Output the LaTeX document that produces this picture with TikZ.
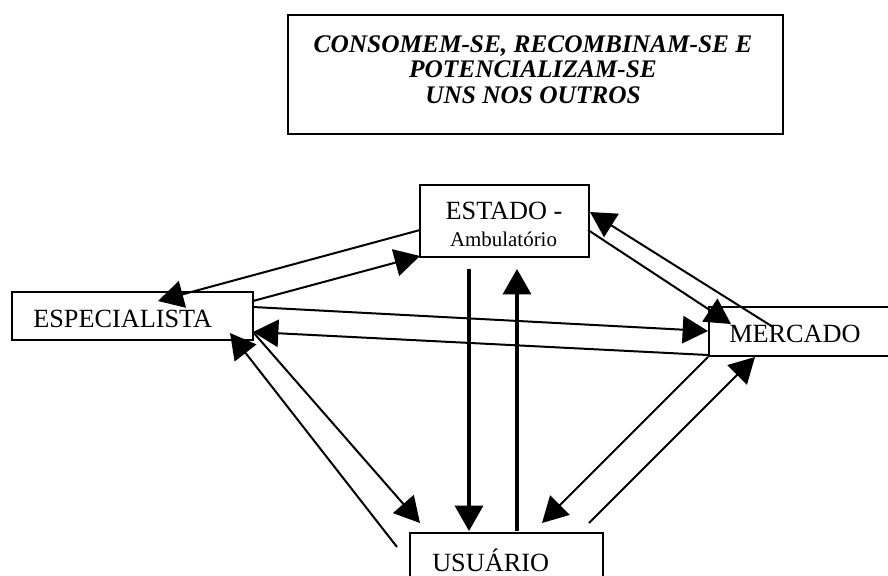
\documentclass[tikz,border=0pt]{standalone}
\usepackage{fontspec}
\setmainfont{Liberation Serif}
\usetikzlibrary{arrows.meta}
\begin{document}
\begin{tikzpicture}[x=0.75pt,y=-0.75pt,
  box/.style={draw,line width=1.6pt,inner sep=0pt,anchor=north west},
  lbl/.style={inner sep=0pt,anchor=base west,font=\fontsize{19.7}{22}\selectfont},
  ttl/.style={inner sep=0pt,anchor=base,font=\fontsize{19}{22.5}\selectfont\bfseries\itshape},
  arr/.style={line width=1.5pt,-{Triangle[length=19pt,width=20.5pt]}},
  varr/.style={line width=2.4pt,-{Triangle[length=19pt,width=21pt]}}]
\useasboundingbox (0,0) rectangle (888,575);
\clip (0,0) rectangle (888,575);
% title
\node[box,minimum width=371.25pt,minimum height=89.25pt] (title) at (287,14) {};
\node[ttl] (t1) at (533,52) {CONSOMEM-SE, RECOMBINAM-SE E};
\node[ttl] (t2) at (533,77.5) {POTENCIALIZAM-SE};
\node[ttl] (t3) at (533,103) {UNS NOS OUTROS};
% boxes
\node[box,minimum width=126.75pt,minimum height=54pt] (estado) at (419,184) {};
\node[inner sep=0pt,anchor=base,font=\fontsize{19.7}{22}\selectfont] (estadotxt) at (504,219) {ESTADO -};
\node[inner sep=0pt,anchor=base,font=\fontsize{15.7}{18}\selectfont] (ambtxt) at (503.5,246) {Ambulatório};
\node[box,minimum width=180.75pt,minimum height=36pt] (esp) at (11,291) {};
\node[lbl] (esptxt) at (33,327) {ESPECIALISTA};
\node[box,minimum width=150pt,minimum height=36.75pt] (merc) at (708,306) {};
\node[lbl] (merctxt) at (729,342) {MERCADO};
\node[box,minimum width=144.75pt,minimum height=60pt] (usu) at (409,532) {};
\node[lbl] (usutxt) at (432,571) {USUÁRIO};
% connector ends
\coordinate (a1s) at (420,230); \coordinate (a1e) at (158,301);
\coordinate (a2s) at (253,301); \coordinate (a2e) at (420,256);
\coordinate (a3s) at (253,307); \coordinate (a3e) at (708,331);
\coordinate (a4s) at (708,355); \coordinate (a4e) at (253,332);
\coordinate (a5s) at (588,230); \coordinate (a5e) at (731,324);
\coordinate (a6s) at (773,327); \coordinate (a6e) at (590,212);
\coordinate (a7s) at (469,269); \coordinate (a7e) at (469,531);
\coordinate (a8s) at (517,531); \coordinate (a8e) at (517,269);
\coordinate (a9s) at (253,332); \coordinate (a9e) at (420,523);
\coordinate (a10s) at (397,547); \coordinate (a10e) at (230,333);
\coordinate (a11s) at (708,357); \coordinate (a11e) at (542,523);
\coordinate (a12s) at (589,523); \coordinate (a12e) at (755,357);
% connectors
\draw[arr] (a1s) -- (a1e);
\draw[arr] (a2s) -- (a2e);
\draw[arr] (a3s) -- (a3e);
\draw[arr] (a4s) -- (a4e);
\draw[arr] (a5s) -- (a5e);
\draw[arr] (a6s) -- (a6e);
\draw[varr] (a7s) -- (a7e);
\draw[varr] (a8s) -- (a8e);
\draw[arr] (a9s) -- (a9e);
\draw[arr] (a10s) -- (a10e);
\draw[arr] (a11s) -- (a11e);
\draw[arr] (a12s) -- (a12e);
\end{tikzpicture}
\end{document}
